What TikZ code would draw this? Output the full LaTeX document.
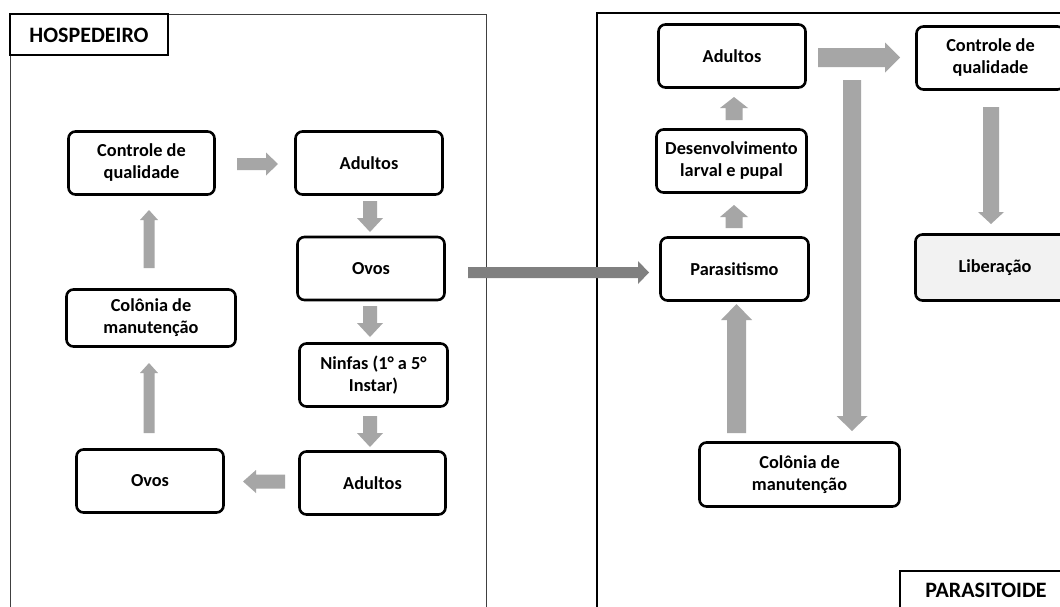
\documentclass[tikz,border=0pt]{standalone}
\usepackage{fontspec}
\setmainfont{Carlito}
\begin{document}
\definecolor{agray}{HTML}{A6A6A6}
\definecolor{dgray}{HTML}{808080}
\definecolor{libfill}{HTML}{F2F2F2}
\newcommand\hblk[7]{%
  \fill[#7] (#1,{#3-#4}) -- ({#2-sign(#2-#1)*#6},{#3-#4}) -- ({#2-sign(#2-#1)*#6},{#3-#5}) -- (#2,#3)
    -- ({#2-sign(#2-#1)*#6},{#3+#5}) -- ({#2-sign(#2-#1)*#6},{#3+#4}) -- (#1,{#3+#4}) -- cycle;}
\newcommand\vblk[7]{%
  \fill[#7] ({#3-#4},#1) -- ({#3-#4},{#2-sign(#2-#1)*#6}) -- ({#3-#5},{#2-sign(#2-#1)*#6}) -- (#3,#2)
    -- ({#3+#5},{#2-sign(#2-#1)*#6}) -- ({#3+#4},{#2-sign(#2-#1)*#6}) -- ({#3+#4},#1) -- cycle;}
\begin{tikzpicture}[x=1pt,y=-1pt,
  box/.style={draw, line width=2.6pt, rounded corners=7pt, fill=white, align=center,
    inner sep=0pt, font=\fontsize{18.3}{22}\selectfont\bfseries},
  lbl/.style={font=\fontsize{22}{26}\selectfont\bfseries, inner sep=0pt}]
\useasboundingbox (0,0) rectangle (1060,606);
\clip (0,0) rectangle (1060,606);
\fill[white] (0,0) rectangle (1060,606);
% panels
\draw[line width=1pt, black!75] (10,14) rectangle (486,640);
\draw[line width=1.3pt, black] (597,13) rectangle (1090,640);
\draw[line width=1.4pt, fill=white] (10,14) rectangle (168,55);
\node[lbl] (hosp) at (89,35) {HOSPEDEIRO};
\draw[line width=1.4pt, fill=white] (900,571) rectangle (1090,640);
\node[lbl] (para) at (986,590) {PARASITOIDE};
% left nodes
\node[box, minimum width=146pt, minimum height=63pt] (lctrl) at (141.5,163) {Controle de\\qualidade};
\node[box, minimum width=147pt, minimum height=63pt] (ladu1) at (369,163) {Adultos};
\node[box, minimum width=147pt, minimum height=63pt] (lovos1) at (371,268.5) {Ovos};
\node[box, minimum width=169pt, minimum height=57pt] (lcol) at (151,318) {Colônia de\\manutenção};
\node[box, minimum width=148pt, minimum height=63pt] (lninf) at (373.5,375) {Ninfas (1° a 5°\\Instar)};
\node[box, minimum width=146pt, minimum height=63pt] (ladu2) at (372.5,483) {Adultos};
\node[box, minimum width=147pt, minimum height=63pt] (lovos2) at (150,481) {Ovos};
% right nodes
\node[box, minimum width=147pt, minimum height=63pt] (radu) at (732,56) {Adultos};
\node[box, minimum width=148pt, minimum height=63pt] (rctrl) at (990.5,58) {Controle de\\qualidade};
\node[box, minimum width=150pt, minimum height=63pt] (rdes) at (731.5,161) {Desenvolvimento\\larval e pupal};
\node[box, minimum width=148pt, minimum height=63pt] (rpar) at (734.5,269) {Parasitismo};
\node[box, minimum width=159pt, minimum height=66pt, fill=libfill] (rlib) at (995,267.5) {Liberação};
\node[box, minimum width=200pt, minimum height=64pt] (rcol) at (799.5,474.5) {Colônia de\\manutenção};
% block arrows (left)
\hblk{237}{278}{164}{6}{11.5}{12}{agray}
\vblk{201}{232}{370}{7}{13}{14}{agray}
\vblk{306}{337}{370}{7}{13}{14}{agray}
\vblk{416}{447}{370}{7}{13}{14}{agray}
\hblk{285}{243}{481.5}{7}{11.5}{13}{agray}
\vblk{433}{363}{149}{5.5}{9}{10}{agray}
\vblk{268}{210}{149}{5.5}{9}{10}{agray}
% connector between panels
\hblk{468}{649}{272.5}{5.5}{11.5}{11}{dgray}
% block arrows (right)
\vblk{120}{97}{734}{8.5}{14}{11}{agray}
\vblk{228}{205}{734}{8.5}{14}{12}{agray}
\hblk{818}{900}{57.5}{9.5}{15}{15}{agray}
\vblk{107}{224}{991}{8}{13}{12}{agray}
\vblk{80}{431}{852}{9}{15.5}{15}{agray}
\vblk{433}{304}{736.5}{9.5}{15.5}{16}{agray}
\end{tikzpicture}
\end{document}
